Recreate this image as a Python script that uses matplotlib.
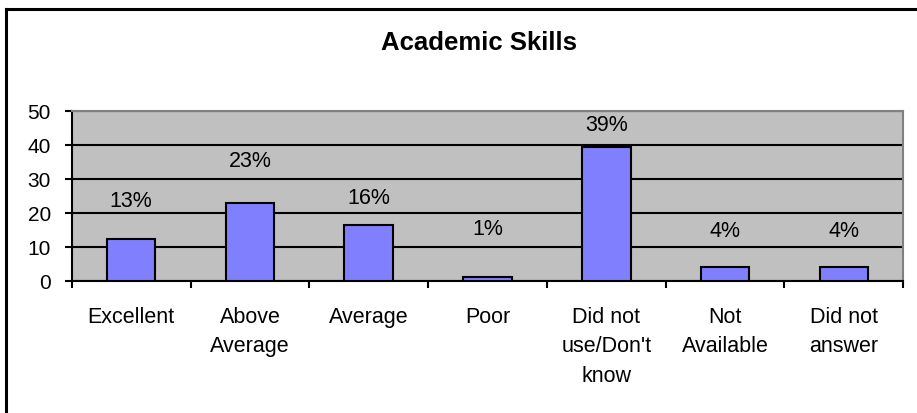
import matplotlib
matplotlib.use("Agg")
import matplotlib.pyplot as plt
from matplotlib.lines import Line2D
import numpy as np

plt.rcParams['font.family'] = ['Liberation Sans', 'DejaVu Sans']

categories = ["Excellent", "Above\nAverage", "Average", "Poor",
              "Did not\nuse/Don't\nknow", "Not\nAvailable", "Did not\nanswer"]
counts = [12.3, 22.9, 16.4, 1.2, 39.2, 4.1, 4.1]
pct_labels = ["13%", "23%", "16%", "1%", "39%", "4%", "4%"]
# heights where the percentage labels sit
label_level = [20.4, 32.2, 21.4, 12.3, 42.9, 11.8, 11.8]
yticks = [0, 10, 20, 30, 40, 50]

W, H = 917, 414
fig = plt.figure(figsize=(W / 100, H / 100), dpi=100)
ax = fig.add_axes([71.7 / W, 1 - 281.7 / H, (903.3 - 71.7) / W, (281.7 - 111.7) / H])

x = np.arange(len(categories))
ax.set_facecolor("#C0C0C0")
ax.bar(x, counts, width=0.41, color="#8080FF", edgecolor="black", linewidth=1.5, zorder=3)

for xi, lv, lab in zip(x, label_level, pct_labels):
    ax.text(xi, lv, lab, ha="center", va="bottom", fontsize=15.5, zorder=4)

ax.set_xlim(-0.5, len(categories) - 0.5)
ax.set_ylim(0, 50)
ax.set_yticks(yticks)
ax.set_yticklabels([str(t) for t in yticks], fontsize=15)
ax.yaxis.grid(True, color="black", linewidth=1.5, zorder=1)
ax.set_axisbelow(True)
ax.tick_params(axis="y", direction="out", length=5, width=1.5, pad=10, colors="black")

# category boundary ticks, labels in between
ax.set_xticks(np.arange(-0.5, len(categories), 1.0))
ax.set_xticklabels([])
ax.tick_params(axis="x", direction="out", length=5, width=1.5)
for xi, cat in zip(x, categories):
    ax.annotate(cat, xy=(xi, 0), xycoords=("data", "axes fraction"),
                xytext=(0, -18), textcoords="offset points",
                ha="center", va="top", fontsize=15.5, linespacing=1.55)

for side in ["top", "right"]:
    ax.spines[side].set_color("#808080")
    ax.spines[side].set_linewidth(1.5)
for side in ["left", "bottom"]:
    ax.spines[side].set_color("black")
    ax.spines[side].set_linewidth(1.5)

fig.text(0.5 * (386 + 572) / W, 1 - 50 / H, "Academic Skills", ha="center",
         va="baseline", fontsize=18.5, fontweight="bold")

# outer chart frame (only left and top edges visible)
fig.add_artist(Line2D([6 / W, 6 / W], [0, 1 - 10 / H], color="black", linewidth=2.2))
fig.add_artist(Line2D([6 / W, 1], [1 - 10 / H, 1 - 10 / H], color="black", linewidth=2.2))

fig.savefig("out.png", dpi=100)
